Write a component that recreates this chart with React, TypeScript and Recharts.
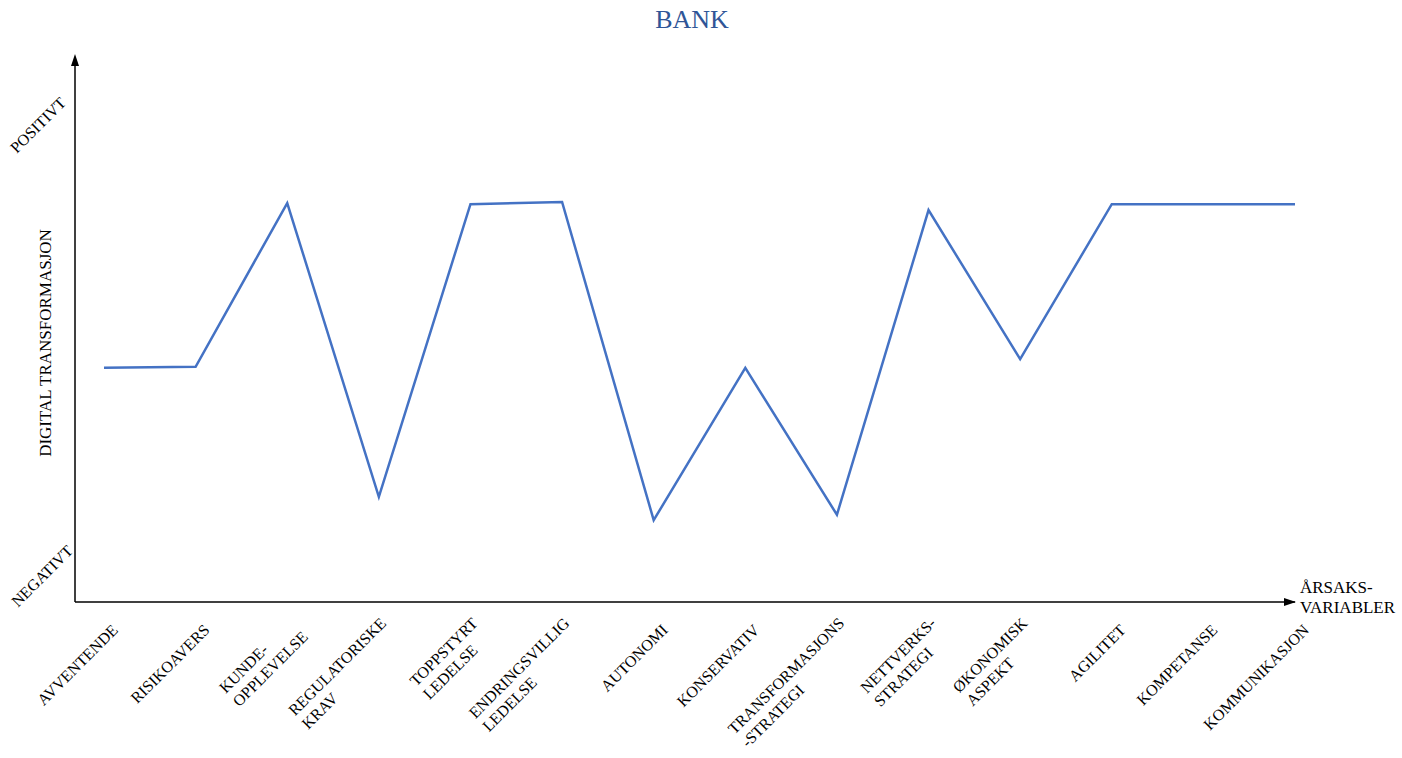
import React from 'react';
import { LineChart, Line, XAxis, YAxis } from 'recharts';

const CATEGORIES = [
  'AVVENTENDE',
  'RISIKOAVERS',
  'KUNDE-\nOPPLEVELSE',
  'REGULATORISKE\nKRAV',
  'TOPPSTYRT\nLEDELSE',
  'ENDRINGSVILLIG\nLEDELSE',
  'AUTONOMI',
  'KONSERVATIV',
  'TRANSFORMASJONS\n-STRATEGI',
  'NETTVERKS-\nSTRATEGI',
  'ØKONOMISK\nASPEKT',
  'AGILITET',
  'KOMPETANSE',
  'KOMMUNIKASJON',
];

// 0 = negativt, 100 = positivt
const IMPACT = [43.2, 43.4, 73.6, 19.4, 73.4, 73.8, 15.1, 43.2, 16.1, 72.3, 44.8, 73.4, 73.4, 73.4];

const TITLE = 'BANK';
const Y_TOP_LABEL = 'POSITIVT';
const Y_MID_LABEL = 'DIGITAL TRANSFORMASJON';
const Y_BOTTOM_LABEL = 'NEGATIVT';
const X_LABEL = ['ÅRSAKS-', 'VARIABLER'];

const W = 1402;
const H = 758;
const AXIS_Y = 602;
const M = { top: 60, right: 107, bottom: 0, left: 75 };
const FONT = '"Liberation Serif", "Times New Roman", serif';
const LINE_BLUE = '#4472C4';

const data = CATEGORIES.map((name, i) => ({ name, value: IMPACT[i] }));

let ctx: CanvasRenderingContext2D | null = null;
function textWidth(s: string) {
  if (!ctx) ctx = document.createElement('canvas').getContext('2d');
  if (!ctx) return s.length * 10;
  ctx.font = `16px ${FONT}`;
  return ctx.measureText(s).width;
}

function SlantTick(props: any) {
  const { x, y, payload } = props;
  const lines: string[] = String(payload.value).split('\n');
  const maxW = Math.max(...lines.map(textWidth));
  const lh = 19;
  const shift = ((lines.length - 1) * lh) / 2;
  return (
    <g transform={`translate(${x + 15},${y + 29}) rotate(-45)`}>
      {lines.map((l, i) => (
        <text
          key={i}
          x={-maxW}
          y={i * lh - shift}
          textAnchor="start"
          fontFamily={FONT}
          fontSize={16}
          fill="#000"
        >
          {l}
        </text>
      ))}
    </g>
  );
}

export default function App() {
  const x0 = M.left;
  const xEnd = W - M.right;
  return (
    <div style={{ position: 'absolute', left: 0, top: 0, width: W, height: H, background: '#fff' }}>
      <LineChart width={W} height={H} data={data} margin={M}>
        <XAxis
          dataKey="name"
          interval={0}
          tickLine={false}
          tickSize={0}
          tickMargin={0}
          padding={{ left: 29, right: 0 }}
          axisLine={{ stroke: '#000', strokeWidth: 1.5 }}
          tick={<SlantTick />}
          height={H - AXIS_Y}
        />
        <YAxis domain={[0, 100]} width={0} tick={false} tickLine={false} axisLine={false} />
        <Line
          type="linear"
          dataKey="value"
          stroke={LINE_BLUE}
          strokeWidth={2.5}
          dot={false}
          activeDot={false}
          isAnimationActive={false}
        />
      </LineChart>
      <svg
        width={W}
        height={H}
        style={{ position: 'absolute', left: 0, top: 0, pointerEvents: 'none' }}
      >
        {/* y axis with arrow head */}
        <line x1={x0} y1={AXIS_Y} x2={x0} y2={62} stroke="#000" strokeWidth={1.5} />
        <polygon points={`${x0},54 ${x0 - 4},66 ${x0 + 4},66`} fill="#000" />
        <polygon points={`${xEnd + 1},${AXIS_Y} ${xEnd - 11},${AXIS_Y - 4} ${xEnd - 11},${AXIS_Y + 4}`} fill="#000" />
        <text
          x={692}
          y={28}
          textAnchor="middle"
          fontFamily={FONT}
          fontSize={26}
          fill="#2F5597"
        >
          {TITLE}
        </text>
        <text
          transform="translate(38,125) rotate(-45)"
          textAnchor="middle"
          dominantBaseline="central"
          fontFamily={FONT}
          fontSize={16}
        >
          {Y_TOP_LABEL}
        </text>
        <text
          transform="translate(45,343) rotate(-90)"
          textAnchor="middle"
          dominantBaseline="central"
          fontFamily={FONT}
          fontSize={17}
        >
          {Y_MID_LABEL}
        </text>
        <text
          transform="translate(42,576) rotate(-45)"
          textAnchor="middle"
          dominantBaseline="central"
          fontFamily={FONT}
          fontSize={16}
        >
          {Y_BOTTOM_LABEL}
        </text>
        {X_LABEL.map((l, i) => (
          <text key={l} x={1300} y={593 + i * 20} fontFamily={FONT} fontSize={17}>
            {l}
          </text>
        ))}
      </svg>
    </div>
  );
}
